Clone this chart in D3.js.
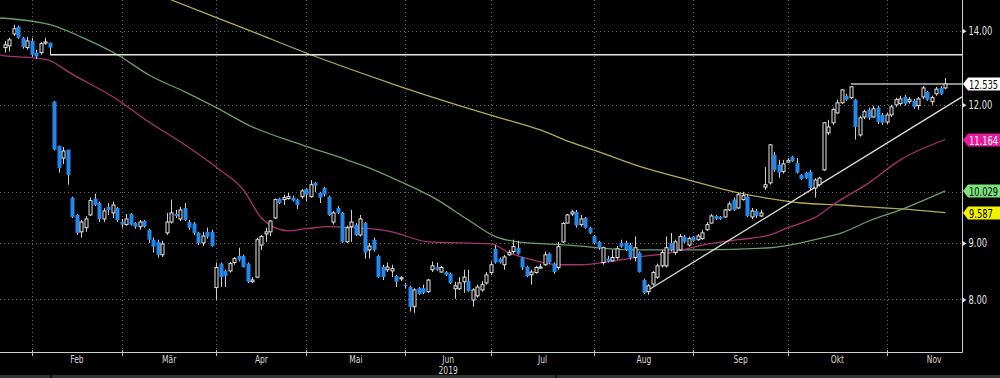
<!DOCTYPE html>
<html lang="de">
<head>
    <meta charset="UTF-8">
    <title>Kursverlauf 2019</title>
    <script src="https://cdn.jsdelivr.net/npm/d3@7"></script>
    <style>
        body { margin: 0; background: #000; overflow: hidden; }
        text { font-family: "Liberation Sans Narrow", "DejaVu Sans Condensed", "Liberation Sans", sans-serif; }
    </style>
</head>
<body>
<script>
    // daily candles, one per trading day (index 0 = first day shown)
    var open = [
        13.52,13.57,13.91,14.12,13.80,13.52,13.71,13.38,13.38,13.66,
        13.66,12.08,11.02,10.74,10.93,9.89,9.54,9.21,9.29,9.54,
        9.87,9.78,9.46,9.70,9.58,9.68,9.40,9.35,9.56,9.38,
        9.31,9.42,9.25,9.06,9.02,8.78,9.19,9.40,9.56,9.46,
        9.68,9.40,9.37,9.19,9.00,9.21,9.21,8.20,8.62,8.49,
        8.49,8.64,8.76,8.76,8.62,8.30,8.38,8.96,9.17,9.21,
        9.48,9.87,9.85,9.87,9.89,9.85,9.91,10.07,9.91,10.20,
        9.99,10.09,9.91,9.40,9.68,9.58,9.02,9.31,9.35,9.15,
        9.38,8.87,9.06,8.76,8.56,8.51,8.49,8.40,8.35,8.25,
        8.21,7.88,8.19,8.19,8.13,8.51,8.56,8.47,8.47,8.44,
        8.18,8.18,8.30,8.31,7.99,8.06,8.16,8.28,8.46,8.89,
        8.71,8.60,8.78,8.84,8.91,8.73,8.56,8.42,8.46,8.55,
        8.60,8.80,8.62,8.55,9.02,9.38,9.56,9.60,9.35,9.48,
        9.29,9.13,9.02,8.64,8.71,8.67,8.73,9.00,9.00,8.96,
        8.73,8.82,8.33,8.13,8.26,8.38,8.58,8.58,9.00,8.82,
        8.87,9.12,8.96,9.12,9.06,9.08,9.25,9.38,9.52,9.50,
        9.50,9.64,9.85,9.68,9.85,9.91,9.50,9.62,9.52,10.11,
        10.20,10.81,10.59,10.44,10.65,10.77,10.63,10.37,10.42,10.44,
        10.09,10.16,10.48,11.32,11.56,11.80,12.05,12.23,12.18,12.13,
        11.27,11.70,11.88,11.70,11.93,11.75,11.58,11.75,12.00,12.03,
        12.20,12.08,12.10,11.98,12.20,12.33,12.08,12.28,12.43,12.43
    ];
    var high = [
        13.71,13.80,14.18,14.15,13.83,13.83,13.80,13.46,13.68,13.80,
        13.66,12.10,11.02,10.99,10.93,9.91,9.56,9.44,9.52,9.89,
        9.97,9.81,9.68,9.78,9.81,9.70,9.46,9.56,9.58,9.40,
        9.44,9.44,9.27,9.10,9.06,9.04,9.58,9.85,9.64,9.70,
        9.78,9.44,9.40,9.21,9.21,9.29,9.25,8.64,8.64,8.51,
        8.65,8.74,8.91,8.78,8.64,8.38,9.10,9.15,9.29,9.44,
        9.87,9.89,9.95,9.99,9.93,9.87,10.07,10.09,10.26,10.22,
        10.01,10.11,9.93,9.62,9.72,9.60,9.33,9.64,9.38,9.54,
        9.40,9.00,9.10,8.78,8.60,8.64,8.60,8.42,8.40,8.28,
        8.23,8.19,8.21,8.25,8.35,8.66,8.64,8.58,8.49,8.46,
        8.30,8.38,8.51,8.51,8.19,8.25,8.31,8.47,8.66,8.96,
        8.73,8.78,8.87,9.06,9.04,8.74,8.58,8.51,8.58,8.62,
        8.84,8.82,8.64,9.02,9.40,9.56,9.64,9.64,9.54,9.50,
        9.31,9.15,9.04,8.93,8.76,8.87,8.94,9.06,9.04,9.00,
        9.12,8.84,8.35,8.26,8.49,8.62,8.87,9.12,9.19,9.06,
        9.17,9.15,9.12,9.13,9.17,9.25,9.40,9.56,9.54,9.52,
        9.66,9.81,9.89,9.99,10.01,9.95,9.68,9.66,9.64,10.54,
        11.06,10.88,10.70,10.70,10.74,10.79,10.74,10.39,10.44,10.48,
        10.30,10.33,11.58,11.63,11.93,12.13,12.40,12.28,12.48,12.15,
        11.73,11.88,11.93,11.98,11.98,11.80,11.80,12.00,12.18,12.23,
        12.25,12.20,12.15,12.20,12.48,12.35,12.23,12.46,12.48,12.69
    ];
    var low = [
        13.38,13.41,13.85,13.77,13.49,13.46,13.27,13.21,13.32,13.60,
        13.32,10.91,10.42,10.61,10.16,9.48,9.15,9.10,9.21,9.52,
        9.72,9.40,9.40,9.54,9.48,9.40,9.29,9.33,9.33,9.27,
        9.25,9.29,9.00,8.82,8.73,8.74,9.15,9.37,9.48,9.42,
        9.42,9.25,9.15,8.96,8.94,9.08,8.93,7.99,8.21,8.21,
        8.46,8.60,8.66,8.55,8.28,8.28,8.37,8.87,9.02,9.13,
        9.46,9.76,9.74,9.85,9.81,9.66,9.87,9.81,9.89,10.01,
        9.78,9.91,9.52,9.35,9.56,9.00,9.00,9.02,9.13,9.12,
        8.71,8.71,8.84,8.37,8.33,8.47,8.38,8.21,8.31,8.19,
        7.80,7.78,8.08,8.09,8.11,8.47,8.49,8.46,8.40,8.26,
        8.01,8.16,8.11,8.13,7.88,8.03,8.13,8.25,8.42,8.62,
        8.62,8.51,8.76,8.80,8.78,8.51,8.38,8.25,8.44,8.53,
        8.58,8.62,8.44,8.51,9.00,9.37,9.52,9.29,9.31,9.27,
        9.17,8.98,8.87,8.60,8.64,8.66,8.69,8.91,8.85,8.69,
        8.66,8.46,8.09,8.08,8.23,8.35,8.55,8.55,8.84,8.78,
        8.85,9.00,8.93,9.02,9.04,9.06,9.23,9.37,9.44,9.44,
        9.48,9.62,9.62,9.66,9.83,9.50,9.46,9.48,9.50,10.05,
        10.16,10.44,10.31,10.40,10.63,10.65,10.40,10.26,10.28,10.05,
        9.89,10.12,10.46,11.27,11.51,11.78,12.03,12.10,12.15,11.16,
        11.23,11.65,11.63,11.68,11.53,11.51,11.53,11.70,11.95,11.98,
        11.98,12.03,11.90,11.88,12.15,12.10,12.00,12.23,12.25,12.40
    ];
    var close = [
        13.60,13.74,14.06,13.80,13.54,13.71,13.32,13.27,13.63,13.68,
        13.52,10.93,10.52,10.90,10.37,9.50,9.19,9.40,9.46,9.83,
        9.74,9.46,9.62,9.64,9.74,9.44,9.35,9.46,9.35,9.31,
        9.40,9.31,9.06,8.93,8.78,8.98,9.40,9.58,9.52,9.64,
        9.44,9.29,9.19,9.00,9.13,9.12,8.94,8.55,8.38,8.40,
        8.62,8.71,8.69,8.56,8.30,8.33,9.06,9.12,9.21,9.42,
        9.85,9.78,9.89,9.91,9.83,9.74,10.03,9.95,10.16,10.14,
        9.89,9.95,9.54,9.58,9.58,9.02,9.29,9.40,9.15,9.46,
        8.82,8.94,8.87,8.38,8.38,8.56,8.53,8.30,8.37,8.23,
        7.88,8.16,8.09,8.11,8.33,8.58,8.51,8.55,8.42,8.28,
        8.23,8.28,8.38,8.14,8.16,8.21,8.25,8.42,8.60,8.64,
        8.64,8.74,8.82,8.93,8.80,8.55,8.40,8.47,8.55,8.56,
        8.78,8.64,8.47,8.93,9.37,9.54,9.60,9.33,9.46,9.29,
        9.19,9.00,8.91,8.91,8.66,8.73,8.89,8.93,8.87,8.73,
        8.91,8.47,8.11,8.23,8.46,8.58,8.82,8.91,8.87,9.02,
        9.12,9.02,9.08,9.04,9.13,9.19,9.35,9.52,9.46,9.46,
        9.64,9.76,9.64,9.95,9.93,9.52,9.62,9.52,9.58,10.16,
        11.04,10.48,10.42,10.61,10.69,10.67,10.42,10.28,10.30,10.09,
        10.26,10.30,11.56,11.46,11.88,12.05,12.38,12.13,12.46,11.46,
        11.68,11.83,11.68,11.90,11.58,11.56,11.75,11.95,12.13,12.15,
        12.03,12.13,11.95,12.15,12.43,12.13,12.18,12.40,12.28,12.535
    ];

    // moving averages, read at sample days
    var ma50Idx = [-1.1,0,6,10,14,25,32,40,47.5,53,57,60,63,67,72,77,81,86,94,108,112,117,123,128,133,140,148,155,163,170,174,177,181,184,192,199,209];
    var ma50 = [13.32,13.29,13.24,13.16,12.86,12.13,11.58,11.04,10.50,10.05,9.48,9.29,9.23,9.27,9.31,9.29,9.27,9.21,9.02,8.98,8.82,8.69,8.60,8.60,8.64,8.73,8.82,8.96,9.06,9.15,9.29,9.38,9.54,9.74,10.20,10.70,11.164];
    var ma100Idx = [-1.1,10,17,25,32,40,47,54,66,76,82,88,96,103,109,114,125,140,155,170,177,181,186,192,199,209];
    var ma100 = [14.38,14.18,13.82,13.32,12.77,12.33,11.93,11.51,11.04,10.70,10.48,10.22,9.85,9.44,9.12,9.02,8.96,8.87,8.87,8.91,9.00,9.08,9.19,9.42,9.64,10.029];
    var ma200Idx = [28,37,54,68,79,88,99,110,119,126,132,140,152,163,170,177,186,192,199,209];
    var ma200 = [15.44,14.93,14.03,13.32,12.83,12.46,12.05,11.68,11.39,11.09,10.88,10.59,10.26,9.99,9.87,9.78,9.74,9.70,9.66,9.587];

    // months (first trading day index of each month)
    var monthNames = ["Feb","Mär","Apr","Mai","Jun","Jul","Aug","Sep","Okt","Nov"];
    var monthStart = [6,26,47,67,89,108,131,153,174,196];
    var lastMonthEnd = 217;

    // price axis
    var gridValues = [8, 9, 10, 12, 14];
    var labelValues = [8, 9, 12, 14];

    // drawn levels / trend line
    var upperLevel = [10, 13.32];     // [start day, price]
    var topLevel = [188, 12.535];
    var trendFrom = [143, 8.16];
    var trendTo = [212.7, 12.20];

    // last value tags
    var tagValues = [12.535, 11.164, 10.029, 9.587];
    var tagTexts = ["12.535 TUI", "11.164", "10.029", "9.587"];

    //Width and height
    var w = 1000;
    var h = 378;
    var plotW = 962;
    var plotH = 352;
    var squeeze = 0.74;   // narrow Bloomberg-like lettering

    var xScale = d3.scaleLinear()
        .domain([-1.1, 212.7])
        .range([0, plotW]);

    var yScale = d3.scaleLog()
        .domain([7.17, 14.93])
        .range([plotH, 0]);

    var svg = d3.select("body")
        .append("svg")
        .attr("width", w)
        .attr("height", h)
        .style("background", "#000");

    svg.append("clipPath")
        .attr("id", "plotclip")
        .append("rect")
        .attr("x", 0).attr("y", 0)
        .attr("width", plotW).attr("height", plotH);

    //grid
    svg.append("g").selectAll("line")
        .data(gridValues)
        .enter()
        .append("line")
        .attr("x1", 0).attr("x2", plotW)
        .attr("y1", function(d) { return Math.round(yScale(d)) + 0.5; })
        .attr("y2", function(d) { return Math.round(yScale(d)) + 0.5; })
        .attr("stroke", "#6a6a6a")
        .attr("stroke-dasharray", "1,3");

    svg.append("g").selectAll("line")
        .data(monthStart)
        .enter()
        .append("line")
        .attr("x1", function(d) { return Math.round(xScale(d)) + 0.5; })
        .attr("x2", function(d) { return Math.round(xScale(d)) + 0.5; })
        .attr("y1", 0).attr("y2", plotH)
        .attr("stroke", "#6a6a6a")
        .attr("stroke-dasharray", "1,3");

    var plot = svg.append("g").attr("clip-path", "url(#plotclip)");

    //moving averages
    var maLine = d3.line()
        .x(function(d) { return xScale(d[0]); })
        .y(function(d) { return yScale(d[1]); })
        .curve(d3.curveMonotoneX);

    var maSeries = [
        { pts: d3.zip(ma200Idx, ma200), color: "#b3ab55" },
        { pts: d3.zip(ma100Idx, ma100), color: "#6a9f6a" },
        { pts: d3.zip(ma50Idx, ma50), color: "#a8336f" }
    ];

    plot.selectAll("path.ma")
        .data(maSeries)
        .enter()
        .append("path")
        .attr("class", "ma")
        .attr("d", function(d) { return maLine(d.pts); })
        .attr("fill", "none")
        .attr("stroke", function(d) { return d.color; })
        .attr("stroke-width", 1.3);

    //level lines and trend line
    plot.append("line")
        .attr("x1", xScale(upperLevel[0])).attr("x2", plotW)
        .attr("y1", yScale(upperLevel[1])).attr("y2", yScale(upperLevel[1]))
        .attr("stroke", "#e8e8e8").attr("stroke-width", 1.3);

    plot.append("line")
        .attr("x1", xScale(topLevel[0])).attr("x2", plotW)
        .attr("y1", yScale(topLevel[1])).attr("y2", yScale(topLevel[1]))
        .attr("stroke", "#bdbdbd").attr("stroke-width", 1.5);

    plot.append("line")
        .attr("x1", xScale(trendFrom[0])).attr("y1", yScale(trendFrom[1]))
        .attr("x2", xScale(trendTo[0])).attr("y2", yScale(trendTo[1]))
        .attr("stroke", "#dcdcd0").attr("stroke-width", 1.3);

    //candles
    var candles = d3.range(open.length).map(function(i) {
        return { i: i, o: open[i], h: high[i], l: low[i], c: close[i] };
    });

    var blue = "#2288ee";
    var white = "#e4e4e4";

    var cg = plot.selectAll("g.candle")
        .data(candles)
        .enter()
        .append("g")
        .attr("class", "candle");

    cg.append("line")
        .attr("x1", function(d) { return Math.round(xScale(d.i)) + 0.5; })
        .attr("x2", function(d) { return Math.round(xScale(d.i)) + 0.5; })
        .attr("y1", function(d) { return yScale(d.h); })
        .attr("y2", function(d) { return yScale(d.l); })
        .attr("stroke", "#cfcfcf")
        .attr("stroke-width", 1);

    cg.append("rect")
        .attr("x", function(d) {
            return d.c >= d.o ? Math.round(xScale(d.i)) - 1 : Math.round(xScale(d.i)) - 1.5;
        })
        .attr("y", function(d) { return yScale(Math.max(d.o, d.c)); })
        .attr("width", function(d) { return d.c >= d.o ? 3 : 4; })
        .attr("height", function(d) {
            return Math.max(1.2, yScale(Math.min(d.o, d.c)) - yScale(Math.max(d.o, d.c)));
        })
        .attr("fill", function(d) { return d.c >= d.o ? "#000" : blue; })
        .attr("stroke", function(d) { return d.c >= d.o ? white : "none"; })
        .attr("stroke-width", 1);

    //axes frame
    svg.append("line")
        .attr("x1", 0).attr("x2", plotW + 0.5)
        .attr("y1", plotH + 0.5).attr("y2", plotH + 0.5)
        .attr("stroke", "#cfcfcf");
    svg.append("line")
        .attr("x1", plotW + 0.5).attr("x2", plotW + 0.5)
        .attr("y1", 0).attr("y2", plotH + 0.5)
        .attr("stroke", "#cfcfcf");

    //right price axis (small arrow ticks, narrow labels)
    var yAxis = d3.axisRight(yScale)
        .tickValues(labelValues)
        .tickFormat(d3.format(".2f"))
        .tickSize(0);

    var ya = svg.append("g")
        .attr("transform", "translate(" + (plotW + 0.5) + ",0)")
        .call(yAxis);
    ya.select(".domain").remove();
    ya.selectAll(".tick line").remove();
    ya.selectAll(".tick")
        .append("path")
        .attr("d", "M0,-2.5 L4,0 L0,2.5 Z")
        .attr("fill", "#e0e0e0");
    ya.selectAll(".tick text")
        .attr("x", 0)
        .attr("dy", null)
        .attr("y", 4)
        .attr("transform", "translate(6,0) scale(" + squeeze + ",1)")
        .attr("text-anchor", "start")
        .attr("fill", "#e6e6e6")
        .style("font-size", "12.5px");

    //month axis
    svg.append("g").selectAll("line")
        .data(monthStart)
        .enter()
        .append("line")
        .attr("x1", function(d) { return Math.round(xScale(d)) + 0.5; })
        .attr("x2", function(d) { return Math.round(xScale(d)) + 0.5; })
        .attr("y1", plotH - 2).attr("y2", plotH + 4)
        .attr("stroke", "#bdbdbd");

    var monthEnds = monthStart.slice(1).concat([lastMonthEnd]);
    svg.append("g").selectAll("text")
        .data(monthNames)
        .enter()
        .append("text")
        .attr("transform", function(d, i) {
            return "translate(" + xScale((monthStart[i] + monthEnds[i]) / 2) + ",363) scale(0.8,1)";
        })
        .attr("text-anchor", "middle")
        .attr("fill", "#d8d8d8")
        .style("font-size", "10.5px")
        .text(function(d) { return d; });

    svg.append("text")
        .attr("transform", "translate(" + xScale((monthStart[4] + monthEnds[4]) / 2) + ",373.5) scale(0.8,1)")
        .attr("text-anchor", "middle")
        .attr("fill", "#d8d8d8")
        .style("font-size", "10.5px")
        .text("2019");

    //bottom status strip
    svg.append("rect")
        .attr("x", 0).attr("y", 375)
        .attr("width", w).attr("height", 3)
        .attr("fill", "#333");
    svg.append("rect").attr("x", 50).attr("y", 375).attr("width", 2).attr("height", 3).attr("fill", "#111");
    svg.append("rect").attr("x", 555).attr("y", 375).attr("width", 2).attr("height", 3).attr("fill", "#111");

    //value tags on the right
    var tagFill = ["#ffffff", "#e8199b", "#7de27d", "#f2f200"];
    var tagInk = ["#000", "#fff", "#000", "#000"];

    var tg = svg.selectAll("g.tag")
        .data(tagValues)
        .enter()
        .append("g")
        .attr("class", "tag")
        .attr("transform", function(d) { return "translate(" + (plotW + 1) + "," + Math.round(yScale(d)) + ")"; });

    tg.append("path")
        .attr("d", "M0,0 L5,-6.5 L60,-6.5 L60,6.5 L5,6.5 Z")
        .attr("fill", function(d, i) { return tagFill[i]; });

    tg.append("text")
        .attr("transform", "translate(6,4.5) scale(" + squeeze + ",1)")
        .attr("fill", function(d, i) { return tagInk[i]; })
        .style("font-size", "12.5px")
        .text(function(d, i) { return tagTexts[i]; });
</script>
</body>
</html>
